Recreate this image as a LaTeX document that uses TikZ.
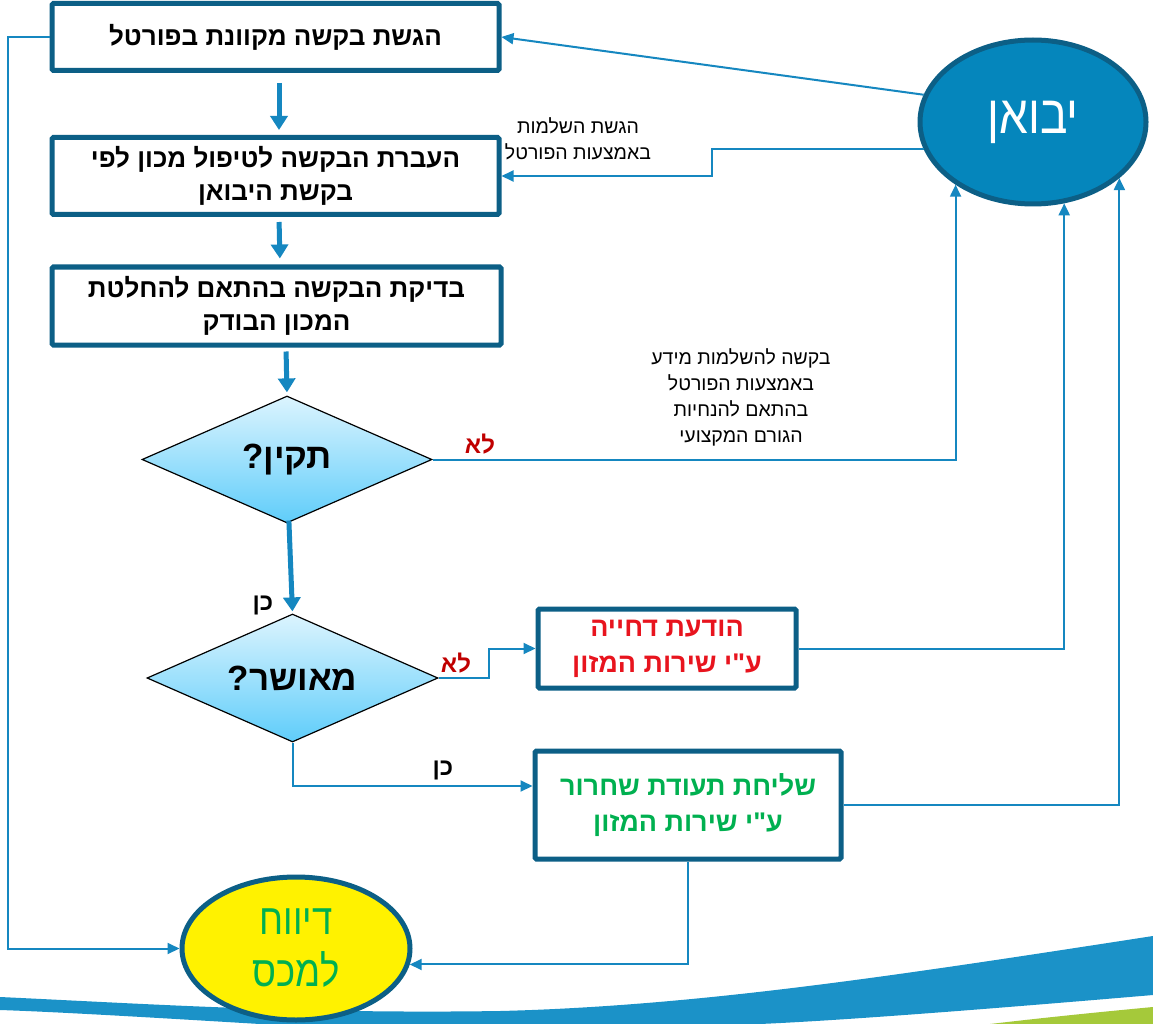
\documentclass[tikz,border=0pt]{standalone}
\usepackage{fontspec}
\usepackage{graphicx}
\usetikzlibrary{shapes.geometric,arrows.meta,calc}
\TeXXeTstate=1
\newfontfamily\hebfont[Script=Hebrew]{Liberation Sans}
\newcommand{\hb}[1]{\beginR #1\endR}
\definecolor{boxblue}{RGB}{12,95,134}
\definecolor{connblue}{RGB}{21,135,192}
\definecolor{ellblue}{RGB}{5,134,188}
\definecolor{dlight}{RGB}{220,244,254}
\definecolor{ddark}{RGB}{95,205,250}
\definecolor{nored}{RGB}{192,0,0}
\definecolor{boxred}{RGB}{232,20,30}
\definecolor{okgreen}{RGB}{0,176,80}
\definecolor{bandblue}{RGB}{27,146,200}
\definecolor{bandgreen}{RGB}{165,201,58}
\begin{document}
\begin{tikzpicture}[x=1pt,y=-1pt,
  procbox/.style={draw=boxblue, line width=5pt, fill=white, rounded corners=1.5pt,
    font=\hebfont\bfseries\fontsize{26}{33}\selectfont, align=center, inner sep=0pt},
  outbox/.style={procbox, font=\hebfont\bfseries\fontsize{27}{36}\selectfont},
  decision/.style={diamond, draw=black, line width=1.2pt, top color=dlight, bottom color=ddark,
    inner sep=0pt, aspect=2.28, font=\hebfont\bfseries\fontsize{35}{40}\selectfont},
  conn/.style={draw=connblue, line width=2pt, -{Triangle[length=12pt,width=11pt]}},
  flow/.style={draw=connblue, line width=5pt, -{Triangle[length=14pt,width=17pt]}},
  smalllbl/.style={font=\hebfont\fontsize{19.5}{26}\selectfont, align=center, inner sep=0pt},
  yeslbl/.style={font=\hebfont\bfseries\fontsize{24}{26}\selectfont, inner sep=0pt},
  nolbl/.style={font=\hebfont\bfseries\fontsize{24}{26}\selectfont, text=nored, inner sep=0pt}
]
\useasboundingbox (0,0) rectangle (1153,1024);
\fill[white] (0,0) rectangle (1153,1024);
% background swoosh
\fill[bandblue] (0,997) .. controls (150,1004) and (300,1014) .. (500,1011)
  .. controls (700,1006) and (900,975) .. (1153,936) -- (1153,995)
  .. controls (1000,1008) and (850,1020) .. (760,1024) -- (260,1024)
  .. controls (160,1018) and (60,1012) .. (0,1010) -- cycle;
\fill[bandgreen] (990,1024) .. controls (1050,1017) and (1100,1012) .. (1153,1007) -- (1153,1024) -- cycle;

% nodes
\node[procbox, minimum width=447, minimum height=67] (b1) at (275.5,37) {\hb{הגשת בקשה מקוונת בפורטל}};
\node[procbox, minimum width=447, minimum height=77] (b2) at (275.5,176) {\hb{העברת הבקשה לטיפול מכון לפי}\\\hb{בקשת היבואן}};
\node[procbox, minimum width=449, minimum height=78] (b3) at (276.5,306) {\hb{בדיקת הבקשה בהתאם להחלטת}\\\hb{המכון הבודק}};
\node[decision, minimum width=290, minimum height=127] (d1) at (287,459.5) {\hb{תקין?}};
\node[decision, minimum width=291, minimum height=128] (d2) at (292.5,678) {\hb{מאושר?}};
\node[outbox, minimum width=258, minimum height=79, text=boxred] (rb) at (667,648.5) {\hb{הודעת דחייה}\\\hb{ע"י שירות המזון}};
\node[outbox, minimum width=306, minimum height=108, text=okgreen] (gb) at (688,805) {\raisebox{-3pt}{\hb{שליחת תעודת שחרור}}\\\raisebox{-3pt}{\hb{ע"י שירות המזון}}};
\node[ellipse, draw=boxblue, line width=5pt, fill=ellblue, minimum width=226, minimum height=164, inner sep=0pt,
  text=white, font=\hebfont\fontsize{54}{60}\selectfont] (yb) at (1033,122) {\raisebox{-3pt}{\scalebox{0.85}[1]{\hb{יבואן}}}};
\node[ellipse, draw=boxblue, line width=5pt, fill=yellow, minimum width=228, minimum height=143, inner sep=0pt,
  text=okgreen, font=\hebfont\fontsize{43}{52}\selectfont, align=center] (dv) at (296,948.5) {\raisebox{-4pt}{\scalebox{0.85}[1]{\hb{דיווח}}}\\\raisebox{-4pt}{\scalebox{0.85}[1]{\hb{למכס}}}};

% thick flow arrows
\draw[flow, shorten <=10pt, shorten >=5pt] ([xshift=3.5pt]b1.south) -- ([xshift=3.5pt]b2.north);
\draw[flow, shorten <=5pt, shorten >=6pt] ([xshift=3.5pt]b2.south) -- ([xshift=3.5pt]b3.north);
\draw[flow, shorten <=4pt, shorten >=3pt] ([xshift=9.5pt]b3.south) -- (d1.north);
\draw[flow, shorten <=-3pt, shorten >=2pt] ([xshift=2pt]d1.south) -- (d2.north);

% connectors
\draw[conn] (b1.west) -- (8,37) |- (dv.west);
\draw[conn] (yb.166) -- (b1.east);
\draw[conn] (yb.194) -| (712,176) -- (b2.east);
\draw[conn] (d1.east) -| (yb.219);
\draw[conn] (d2.east) -- (489,678) |- (rb.west);
\draw[conn] (d2.south) |- ([yshift=19pt]gb.west);
\draw[conn] (rb.east) -| (yb.291);
\draw[conn] (gb.east) -| (yb.327);
\draw[conn] (gb.south) |- (dv.-8);

% labels
\node[smalllbl] (l1) at (578,139) {\hb{הגשת השלמות}\\\hb{באמצעות הפורטל}};
\node[smalllbl] (l2) at (741,397) {\hb{בקשה להשלמות מידע}\\\hb{באמצעות הפורטל}\\\hb{בהתאם להנחיות}\\\hb{הגורם המקצועי}};
\node[nolbl] (no1) at (480,444) {\hb{לא}};
\node[nolbl] (no2) at (456,663) {\hb{לא}};
\node[yeslbl] (yes1) at (263,605) {\hb{כן}};
\node[yeslbl] (yes2) at (443,770) {\hb{כן}};
\end{tikzpicture}
\end{document}
